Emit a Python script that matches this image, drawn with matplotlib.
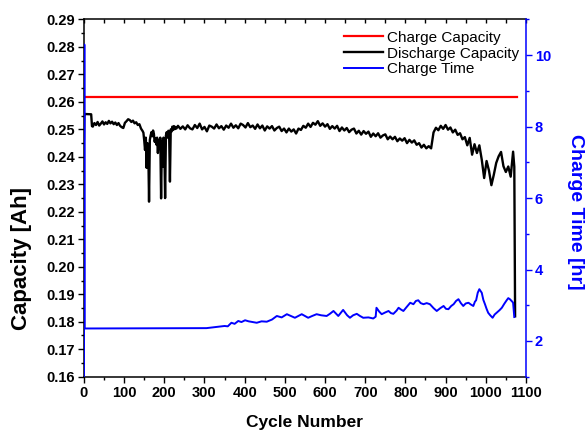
import numpy as np
import matplotlib
matplotlib.use("Agg")
import matplotlib.pyplot as plt
from matplotlib.ticker import MultipleLocator, FormatStrFormatter

plt.rcParams['font.family'] = ['Liberation Sans', 'DejaVu Sans']

# charge capacity (constant)
charge_cycles = [1, 1078]
charge_cap = [0.2617, 0.2617]

# discharge capacity
dis_start_cycles = [0, 1, 2, 18, 20]
dis_start_cap = [0.2465, 0.2555, 0.2556, 0.2555, 0.2512]

dis_a_cycles = np.arange(22, 147, 4)
dis_a_cap = [0.2510, 0.2523, 0.2516, 0.2527, 0.2514, 0.2521, 0.2529, 0.2518,
             0.2526, 0.2520, 0.2531, 0.2522, 0.2528, 0.2519, 0.2525, 0.2516,
             0.2523, 0.2513, 0.2508, 0.2505, 0.2524, 0.2530, 0.2537, 0.2534,
             0.2527, 0.2532, 0.2522, 0.2526, 0.2516, 0.2519, 0.2503, 0.2494]

dis_b_cycles = np.arange(148, 231, 2)
dis_b_cap = [0.2488, 0.2460, 0.2425, 0.2470, 0.2360, 0.2450, 0.2440, 0.2237,
             0.2462, 0.2478, 0.2490, 0.2475, 0.2496, 0.2485, 0.2455, 0.2468,
             0.2445, 0.2470, 0.2414, 0.2462, 0.2438, 0.2470, 0.2249, 0.2458,
             0.2364, 0.2470, 0.2442, 0.2250, 0.2478, 0.2490, 0.2470, 0.2495,
             0.2486, 0.2310, 0.2500, 0.2492, 0.2510, 0.2498, 0.2512, 0.2501,
             0.2509, 0.2503]

dis_c_cycles = np.arange(234, 1069, 6)
dis_c_cap = [0.2513, 0.2502, 0.2511, 0.2500, 0.2515, 0.2504, 0.2500, 0.2516,
             0.2505, 0.2521, 0.2500, 0.2509, 0.2493, 0.2514, 0.2510, 0.2503,
             0.2518, 0.2504, 0.2512, 0.2499, 0.2514, 0.2506, 0.2521, 0.2506,
             0.2515, 0.2504, 0.2521, 0.2516, 0.2507, 0.2523, 0.2508, 0.2514,
             0.2502, 0.2518, 0.2504, 0.2514, 0.2496, 0.2511, 0.2503, 0.2512,
             0.2496, 0.2505, 0.2510, 0.2494, 0.2503, 0.2489, 0.2503, 0.2492,
             0.2500, 0.2485, 0.2503, 0.2498, 0.2513, 0.2506, 0.2521, 0.2509,
             0.2524, 0.2517, 0.2530, 0.2513, 0.2522, 0.2510, 0.2519, 0.2502,
             0.2512, 0.2503, 0.2513, 0.2494, 0.2507, 0.2496, 0.2505, 0.2490,
             0.2499, 0.2503, 0.2485, 0.2495, 0.2481, 0.2494, 0.2484, 0.2492,
             0.2473, 0.2485, 0.2475, 0.2486, 0.2470, 0.2478, 0.2482, 0.2464,
             0.2474, 0.2464, 0.2473, 0.2457, 0.2467, 0.2459, 0.2468, 0.2450,
             0.2462, 0.2452, 0.2460, 0.2444, 0.2450, 0.2434, 0.2444, 0.2431,
             0.2439, 0.2431, 0.2489, 0.2506, 0.2497, 0.2513, 0.2502, 0.2516,
             0.2499, 0.2507, 0.2489, 0.2499, 0.2480, 0.2486, 0.2464, 0.2472,
             0.2442, 0.2469, 0.2408, 0.2446, 0.2414, 0.2442, 0.2390, 0.2323,
             0.2385, 0.2350, 0.2297, 0.2335, 0.2378, 0.2402, 0.2418, 0.2366,
             0.2345, 0.2365, 0.2328, 0.2419]

dis_end_cycles = [1071, 1073]
dis_end_cap = [0.2364, 0.1820]

dis_cycles = np.concatenate([dis_start_cycles, dis_a_cycles, dis_b_cycles,
                             dis_c_cycles, dis_end_cycles])
dis_cap = np.concatenate([dis_start_cap, dis_a_cap, dis_b_cap,
                          dis_c_cap, dis_end_cap])

# charge time [hr]
time_cycles = [0, 1, 2, 305, 320, 335, 350, 358, 367, 375, 384, 392, 401, 410,
               420, 430, 442, 455, 468, 480, 492, 505, 515, 525, 542, 550, 558,
               568, 579, 590, 604, 612, 621, 633, 645, 655, 662, 670, 679, 687,
               695, 708, 720, 726, 728, 735, 741, 750, 758, 764, 770, 778, 783,
               789, 795, 803, 812, 820, 826, 832, 838, 845, 853, 861, 870, 878,
               887, 895, 901, 907, 914, 920, 926, 932, 938, 944, 950, 957, 963,
               969, 973, 976, 980, 984, 990, 994, 998, 1002, 1006, 1011, 1017,
               1022, 1027, 1034, 1040, 1046, 1052, 1056, 1060, 1066, 1068, 1071]
time_hr = [0.0, 10.3, 2.35, 2.36, 2.38, 2.40, 2.42, 2.41, 2.51, 2.48, 2.56,
           2.53, 2.58, 2.55, 2.53, 2.51, 2.55, 2.54, 2.60, 2.70, 2.66, 2.75,
           2.70, 2.65, 2.75, 2.70, 2.65, 2.70, 2.75, 2.72, 2.70, 2.76, 2.84,
           2.70, 2.87, 2.72, 2.65, 2.72, 2.76, 2.70, 2.65, 2.66, 2.63, 2.68,
           2.93, 2.82, 2.75, 2.80, 2.84, 2.78, 2.76, 2.85, 2.93, 2.88, 2.84,
           2.95, 3.07, 3.03, 3.12, 3.14, 3.06, 3.03, 3.06, 3.03, 2.92, 2.84,
           2.92, 2.98, 2.90, 2.89, 2.98, 3.03, 3.12, 3.17, 3.06, 2.98, 3.05,
           3.07, 3.02, 2.98, 3.10, 3.14, 3.35, 3.45, 3.35, 3.15, 3.03, 2.90,
           2.79, 2.72, 2.65, 2.74, 2.79, 2.86, 2.93, 3.04, 3.14, 3.20, 3.17,
           3.10, 3.07, 2.67]

blue = '#0000ff'

fig = plt.figure(figsize=(5.87, 4.33), dpi=100)
ax1 = fig.add_axes([0.143, 0.130, 0.753, 0.825])
ax2 = ax1.twinx()

l1, = ax1.plot(charge_cycles, charge_cap, color='#ff0000', lw=1.6, label='Charge Capacity')
l2, = ax1.plot(dis_cycles, dis_cap, color='black', lw=1.7, label='Discharge Capacity')
l3, = ax2.plot(time_cycles, time_hr, color=blue, lw=1.4, label='Charge Time')

ax1.set_xlim(0, 1100)
ax1.set_ylim(0.16, 0.29)
ax2.set_ylim(1, 11)

ax1.xaxis.set_major_locator(MultipleLocator(100))
ax1.xaxis.set_minor_locator(MultipleLocator(50))
ax1.yaxis.set_major_locator(MultipleLocator(0.01))
ax1.yaxis.set_minor_locator(MultipleLocator(0.005))
ax1.yaxis.set_major_formatter(FormatStrFormatter('%.2f'))
ax2.yaxis.set_major_locator(MultipleLocator(2))
ax2.yaxis.set_minor_locator(MultipleLocator(1))

for sp in ['left', 'bottom', 'top']:
    ax1.spines[sp].set_linewidth(1.1)
ax1.spines['right'].set_visible(False)
for sp in ['left', 'bottom', 'top']:
    ax2.spines[sp].set_visible(False)
ax2.spines['right'].set_color(blue)
ax2.spines['right'].set_linewidth(1.1)

ax1.tick_params(which='major', direction='out', length=4.5, width=1.0, labelsize=10.5, pad=2)
ax1.tick_params(which='minor', direction='out', length=2.5, width=1.0)
ax2.tick_params(which='major', direction='out', length=4.5, width=1.0, labelsize=10.5,
                colors=blue, pad=2)
ax2.tick_params(which='minor', direction='out', length=2.5, width=1.0, colors=blue)
for lab in ax1.get_xticklabels() + ax1.get_yticklabels() + ax2.get_yticklabels():
    lab.set_fontweight('bold')

# ticks on the top spine, pointing inward
top = ax1.secondary_xaxis('top')
top.set_xticks(np.arange(0, 1101, 50))
top.tick_params(direction='in', length=3, width=1.0, labeltop=False)
top.spines['top'].set_visible(False)

ax1.set_xlabel('Cycle Number', fontsize=12.5, fontweight='bold', labelpad=11)
ax1.set_ylabel('Capacity [Ah]', fontsize=16, fontweight='bold')
ax1.yaxis.set_label_coords(-0.118, 0.332)
ax2.set_ylabel('Charge Time [hr]', fontsize=14, fontweight='bold', color=blue,
               rotation=270, va='bottom')
ax2.yaxis.set_label_coords(1.092, 0.461)

ax1.legend(handles=[l1, l2, l3], loc='upper left', bbox_to_anchor=(0.57, 0.99),
           frameon=False, fontsize=11, borderpad=0, handlelength=2.6,
           handletextpad=0.25, labelspacing=0.12)

fig.savefig('out.png', dpi=100)
